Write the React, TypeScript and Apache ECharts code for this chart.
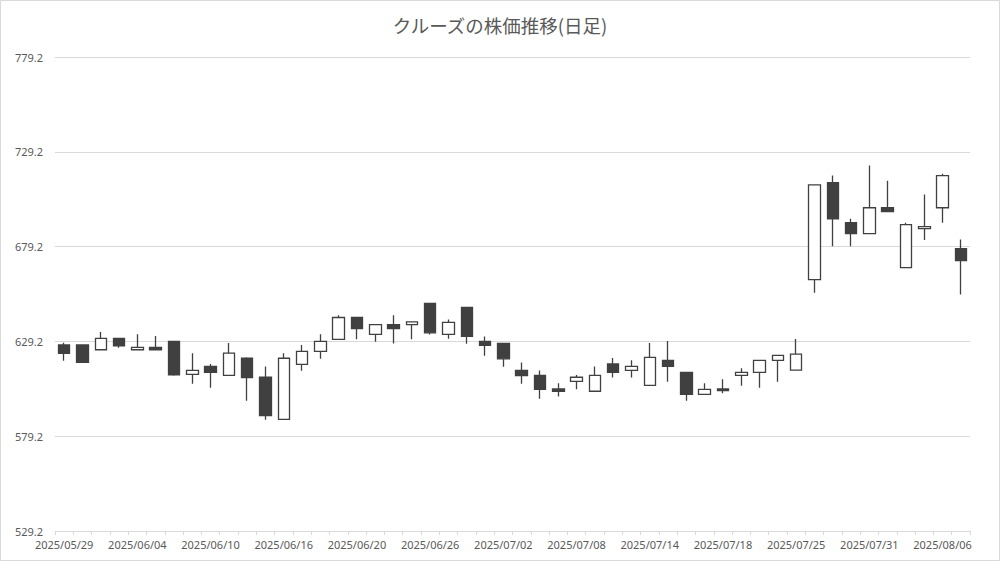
import React, { useEffect, useRef } from "react";
import * as echarts from "echarts";

const TITLE = "クルーズの株価推移(日足)";

const dates = [
  "2025/05/29", "2025/05/30", "2025/06/02", "2025/06/03", "2025/06/04", "2025/06/05", "2025/06/06",
  "2025/06/09", "2025/06/10", "2025/06/11", "2025/06/12", "2025/06/13", "2025/06/16", "2025/06/17",
  "2025/06/18", "2025/06/19", "2025/06/20", "2025/06/23", "2025/06/24", "2025/06/25", "2025/06/26",
  "2025/06/27", "2025/06/30", "2025/07/01", "2025/07/02", "2025/07/03", "2025/07/04", "2025/07/07",
  "2025/07/08", "2025/07/09", "2025/07/10", "2025/07/11", "2025/07/14", "2025/07/15", "2025/07/16",
  "2025/07/17", "2025/07/18", "2025/07/22", "2025/07/23", "2025/07/24", "2025/07/25", "2025/07/28",
  "2025/07/29", "2025/07/30", "2025/07/31", "2025/08/01", "2025/08/04", "2025/08/05", "2025/08/06",
  "2025/08/07",
];

const openPrices = [
  627.3, 627.3, 624.8, 630.8, 624.8, 626.0, 629.2, 611.8, 616.0, 611.3,
  620.3, 610.3, 588.1, 617.1, 623.9, 630.3, 641.8, 632.9, 638.1, 638.1,
  649.2, 632.9, 647.1, 629.2, 628.1, 613.9, 611.3, 604.1, 608.1, 602.9,
  617.3, 613.9, 606.0, 619.2, 612.9, 601.3, 604.1, 611.3, 612.9, 619.2,
  614.1, 661.8, 712.9, 691.8, 686.0, 699.7, 668.1, 688.7, 699.7, 678.1,
];
const closePrices = [
  622.9, 618.1, 630.8, 626.9, 626.0, 624.8, 611.6, 613.9, 612.9, 623.0,
  610.1, 590.0, 620.3, 623.9, 629.2, 641.8, 636.0, 638.1, 636.0, 639.5,
  633.7, 639.2, 631.8, 627.1, 620.0, 611.1, 603.9, 602.9, 610.3, 611.3,
  612.9, 616.0, 620.8, 616.0, 601.3, 603.9, 603.2, 612.9, 619.2, 621.8,
  622.5, 711.8, 693.9, 686.0, 699.7, 697.6, 690.8, 689.7, 716.6, 671.8,
];
const lowPrices = [
  619.0, 617.9, 624.8, 625.8, 624.8, 624.8, 611.1, 606.9, 604.8, 611.3,
  597.9, 587.9, 588.1, 613.7, 620.0, 630.3, 630.3, 629.0, 628.1, 630.3,
  632.9, 630.6, 627.9, 621.6, 615.8, 606.9, 599.0, 600.1, 603.9, 602.9,
  610.1, 610.1, 606.0, 607.9, 597.9, 601.3, 601.8, 605.8, 604.8, 607.9,
  614.1, 654.8, 679.4, 679.4, 686.0, 697.6, 668.1, 682.7, 691.8, 653.9,
];
const highPrices = [
  628.5, 627.5, 634.1, 630.8, 633.0, 632.0, 629.2, 623.0, 617.3, 628.3,
  620.8, 616.0, 623.0, 627.3, 633.0, 643.0, 641.8, 638.1, 643.0, 639.5,
  649.2, 640.8, 647.1, 631.8, 628.1, 618.1, 613.9, 607.1, 611.5, 616.0,
  620.4, 619.2, 628.3, 629.4, 612.9, 607.1, 609.2, 615.0, 619.2, 621.8,
  630.4, 711.8, 716.7, 693.9, 722.0, 713.9, 691.8, 706.7, 717.6, 682.9,
];

const yMin = 529.2;
const yMax = 779.2;
const yStep = 50;

export default function App() {
  const ref = useRef<HTMLDivElement>(null);

  useEffect(() => {
    document.body.style.margin = "0";
    if (!ref.current) return;
    const chart = echarts.init(ref.current, null, { renderer: "svg" });
    const ohlc = dates.map((_, i) => [openPrices[i], closePrices[i], lowPrices[i], highPrices[i]]);
    const font = "'Noto Sans', 'Noto Sans CJK JP', sans-serif";
    chart.setOption({
      animation: false,
      backgroundColor: "#ffffff",
      title: {
        text: TITLE,
        left: "center",
        top: 11,
        textStyle: {
          color: "#595959",
          fontSize: 18.5,
          fontWeight: "normal",
          fontFamily: "'Noto Sans CJK JP', sans-serif",
        },
      },
      graphic: [
        {
          type: "rect",
          shape: { x: 0.5, y: 0.5, width: 999, height: 560 },
          style: { fill: "none", stroke: "#d9d9d9", lineWidth: 1 },
          silent: true,
        },
      ],
      grid: { left: 55, right: 30, top: 57, bottom: 30, containLabel: false },
      xAxis: {
        type: "category",
        data: dates,
        boundaryGap: true,
        axisLine: { show: true, lineStyle: { color: "#d9d9d9", width: 1 } },
        axisTick: { show: true, interval: 0, length: 4, lineStyle: { color: "#d9d9d9" } },
        axisLabel: {
          interval: 3,
          color: "#595959",
          fontSize: 11,
          fontFamily: font,
          margin: 8,
        },
        splitLine: { show: false },
      },
      yAxis: {
        type: "value",
        min: yMin,
        max: yMax,
        interval: yStep,
        axisLine: { show: false },
        axisTick: { show: false },
        axisLabel: {
          color: "#595959",
          fontSize: 11,
          fontFamily: font,
          margin: 12,
          formatter: (v: number) => v.toFixed(1),
        },
        splitLine: { show: true, lineStyle: { color: "#d9d9d9", width: 1 } },
      },
      series: [
        {
          type: "candlestick",
          data: ohlc,
          barWidth: 12,
          itemStyle: {
            color: "#ffffff",
            color0: "#404040",
            borderColor: "#404040",
            borderColor0: "#404040",
            borderWidth: 1.3,
          },
        },
      ],
    });
    return () => chart.dispose();
  }, []);

  return <div ref={ref} style={{ width: 1000, height: 561, position: "absolute", left: 0, top: 0 }} />;
}
